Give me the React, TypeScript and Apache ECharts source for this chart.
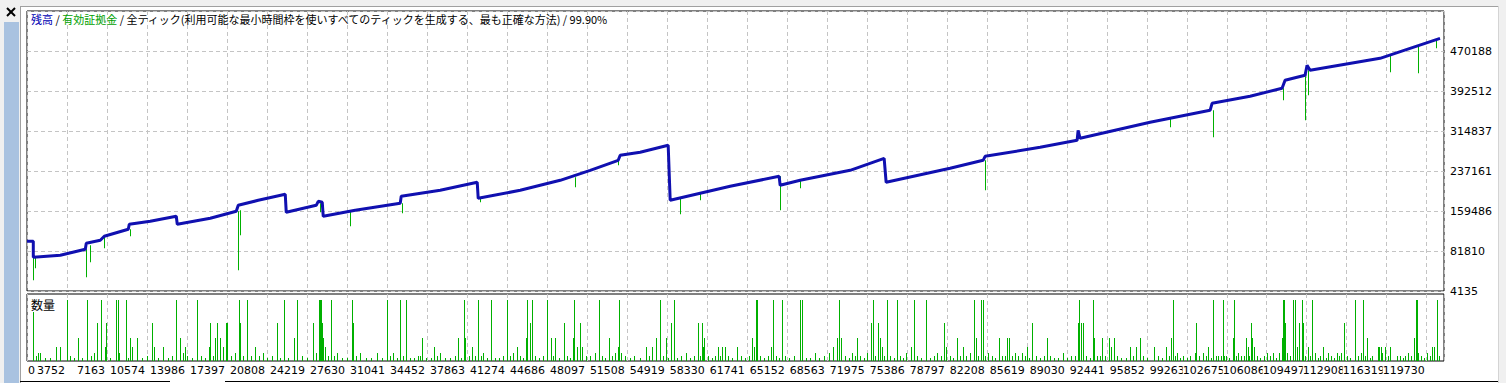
import React, { useEffect, useRef } from 'react';
import * as echarts from 'echarts';

// x axis tick labels (bar numbers) at each vertical grid line
const X_LABELS = ['0', '3752', '7163', '10574', '13986', '17397', '20808', '24219', '27630', '31041', '34452', '37863', '41274', '44686', '48097', '51508', '54919', '58330', '61741', '65152', '68563', '71975', '75386', '78797', '82208', '85619', '89030', '92441', '95852', '99263', '102675', '106086', '109497', '112908', '116319', '119730'];
// right axis tick labels
const Y_LABELS = ['4135', '81810', '159486', '237161', '314837', '392512', '470188'];

const X_MIN = 341;
const X_STEP = 3411.12;
const X_MAX = 121205;
const Y_MIN = 4135;
const Y_STEP = 77675.5;
const Y_MAX = Y_MIN + 7 * Y_STEP;
const VOL_MAX = 1.1;

// balance curve: [bar, balance]
const BALANCE: number[][] = [
  [341, 100647], [878, 100647], [878, 69577], [3181, 73460], [5313, 85112], [5398, 96763],
  [6592, 102589], [6933, 110357], [8980, 123950], [9065, 133659], [10856, 139485], [13073, 149195],
  [13159, 133659], [15973, 145311], [18190, 158904], [18361, 170555], [20066, 180265], [22369, 191916],
  [22454, 156962], [25012, 170555], [25183, 178323], [25524, 176381], [25609, 149195], [28338, 160846],
  [32176, 174439], [32261, 188033], [35587, 199684], [38743, 215219], [38828, 184149], [42410, 199684],
  [45821, 219103], [48379, 238522], [50767, 257941], [50938, 267650], [52643, 273476], [55031, 287069],
  [55202, 180265], [57760, 193858], [60318, 207452], [64497, 226871], [64582, 209393], [66288, 219103],
  [70552, 238522], [73452, 261825], [73622, 215219], [79080, 242406], [81894, 257941], [82065, 265709],
  [86755, 283186], [89911, 296779], [89996, 316198], [90166, 300663], [96136, 331733], [101253, 355036],
  [101423, 368629], [104664, 382223], [107393, 397758], [107649, 413293], [109354, 423002], [109525, 442421],
  [109781, 432712], [115750, 456015], [120867, 494853]
];

// equity drawdowns below balance: [bar, balance level, equity low]
const EQUITY_DIPS: number[][] = [
  [878, 69577, 24913], [1049, 69577, 48216], [5398, 85112, 30739], [5739, 92879, 59867],
  [6933, 110357, 87054], [9150, 123950, 110357], [18361, 158904, 44332], [18531, 160846, 112298],
  [25354, 174439, 156962], [27912, 160846, 129776], [32347, 174439, 155020], [38998, 184149, 176381],
  [47100, 224929, 205510], [50767, 257941, 248231], [56054, 184149, 153078], [57760, 193858, 180265],
  [64582, 226871, 160846], [66288, 219103, 203568], [82065, 257941, 199684], [97842, 339501, 322024],
  [101509, 355036, 302605], [107478, 397758, 374455], [109354, 421061, 335617], [109610, 432712, 384164],
  [116603, 461840, 428828], [118991, 481259, 426886], [120526, 490969, 475434]
];

// traded volume: [bar, lots]
const VOLUME: number[][] = [
  [878, 0.8], [1134, 0.09], [1305, 0.13], [1475, 0.13], [1902, 0.05], [2328, 0.05], [2840, 0.23], [3181, 0.23],
  [3778, 1.0], [4034, 0.09], [4375, 0.05], [4716, 0.38], [5057, 0.05], [5483, 1.0], [5824, 0.09], [6080, 0.13],
  [6336, 0.62], [6677, 1.0], [7018, 0.23], [7104, 0.62], [7445, 0.05], [7956, 1.0], [8127, 1.0], [8212, 0.13],
  [8809, 1.0], [8980, 0.05], [9150, 0.38], [9321, 0.23], [9747, 0.38], [10174, 0.05], [10600, 0.09], [11027, 0.62],
  [11197, 0.23], [11538, 0.05], [11965, 0.23], [12391, 0.05], [12732, 0.09], [13073, 1.0], [13414, 0.38], [13670, 0.13],
  [13841, 0.23], [14011, 0.09], [14438, 0.05], [14864, 1.0], [15205, 0.09], [15546, 0.05], [15888, 0.23], [15973, 0.62],
  [16229, 0.09], [16399, 0.38], [16570, 0.62], [16826, 0.38], [17081, 0.23], [17337, 0.62], [17423, 0.62], [17764, 0.09],
  [18105, 0.13], [18446, 1.0], [18531, 0.62], [18787, 0.09], [19128, 1.0], [19469, 0.09], [19810, 0.23], [20152, 0.09],
  [20493, 0.13], [20834, 0.05], [21260, 0.09], [21687, 0.62], [21942, 0.05], [22284, 1.0], [22625, 0.05], [23136, 0.38],
  [23392, 1.0], [23819, 0.09], [24245, 0.05], [24757, 0.62], [25012, 0.13], [25268, 1.0], [25354, 1.0], [25439, 1.0],
  [25524, 0.62], [25609, 0.38], [25780, 0.23], [26036, 0.09], [26292, 1.0], [26548, 0.09], [26803, 0.13], [27230, 0.05],
  [27656, 0.05], [28083, 1.0], [28168, 0.62], [28424, 0.09], [28765, 0.13], [29277, 0.05], [29703, 0.05], [30215, 0.13],
  [30641, 0.05], [31067, 1.0], [31323, 0.09], [31579, 0.13], [31920, 0.05],
  [32176, 1.0], [32432, 0.09], [32688, 1.0], [33029, 0.05], [33370, 0.05], [33711, 0.09], [33882, 0.09], [34052, 0.38],
  [34393, 0.05], [34820, 0.05], [35076, 0.23], [35331, 0.09], [35587, 0.13], [36014, 0.05], [36440, 0.05], [36866, 0.09],
  [37122, 0.38], [37378, 0.05], [37634, 1.0], [37719, 0.38], [38060, 0.09], [38316, 0.23], [38572, 0.09], [38828, 1.0],
  [39084, 0.09], [39254, 0.13], [39595, 0.05], [39937, 1.0], [40278, 0.05], [40619, 0.05], [40960, 0.09], [41301, 1.0],
  [41557, 0.09], [41813, 0.13], [42154, 0.23], [42410, 0.09], [42665, 0.05], [42921, 0.38], [43007, 1.0], [43262, 0.62],
  [43433, 1.0], [43689, 0.09], [44030, 0.05], [44371, 0.09], [44712, 1.0], [45053, 0.38], [45224, 0.09], [45394, 0.38],
  [45736, 0.05], [46162, 0.62], [46418, 0.09], [46674, 0.05], [46929, 0.38], [47015, 1.0], [47271, 0.23], [47526, 0.62],
  [47697, 0.23], [48038, 0.09], [48379, 0.09], [48806, 0.13], [49147, 1.0], [49403, 0.09], [49658, 0.05], [50000, 0.38],
  [50255, 0.09], [50511, 0.13], [50767, 0.23], [50852, 1.0], [51023, 0.13], [51364, 0.09], [51790, 0.05], [52132, 0.09],
  [52643, 0.05], [53155, 0.23], [53411, 0.09], [53667, 0.23], [54008, 0.38], [54349, 1.0], [54605, 0.09], [54861, 0.38],
  [55031, 0.05], [55287, 0.62], [55543, 1.0], [55799, 0.05], [56140, 0.09], [56566, 0.13], [56907, 0.05], [57248, 0.09],
  [57589, 0.62], [57760, 0.09], [57931, 0.62], [58016, 0.23], [58101, 0.38], [58442, 0.09], [58783, 0.05], [59039, 0.09],
  [59295, 0.23], [59466, 0.09], [59636, 0.23], [59892, 0.23], [60148, 0.09], [60489, 0.05], [60915, 0.23], [61257, 0.09],
  [61598, 0.05], [61939, 0.09], [62195, 0.38], [62365, 0.23], [62536, 1.0], [62621, 1.0], [62877, 0.09], [63218, 0.05],
  [63559, 0.09], [63815, 0.23], [63985, 1.0], [64241, 0.09], [64497, 0.05], [64753, 1.0], [65009, 0.09], [65350, 0.05],
  [65776, 0.09],
  [66288, 1.0], [66459, 1.0], [66800, 0.05], [67141, 0.05], [67567, 0.13], [67908, 0.05], [68335, 0.09], [68761, 0.13],
  [69102, 0.23], [69443, 0.38], [69614, 1.0], [69784, 0.38], [70126, 0.09], [70467, 0.05], [70723, 0.13], [70978, 0.09],
  [71149, 0.38], [71405, 0.09], [71746, 0.05], [72002, 0.13], [72343, 0.62], [72513, 1.0], [72684, 0.09], [72940, 0.62],
  [73110, 0.38], [73281, 0.23], [73452, 0.09], [73707, 1.0], [73963, 0.09], [74304, 0.05], [74560, 1.0], [74816, 0.09],
  [75072, 0.05], [75328, 0.13], [75754, 0.23], [76010, 1.0], [76266, 0.09], [76607, 0.05], [77033, 1.0], [77374, 0.05],
  [77716, 0.09], [77971, 0.13], [78313, 0.09], [78568, 0.62], [78739, 0.23], [79080, 0.09], [79336, 0.05], [79677, 0.38],
  [79933, 0.09], [80189, 0.23], [80445, 0.09], [80786, 0.13], [81127, 1.0], [81297, 0.38], [81468, 0.09], [81724, 1.0],
  [81894, 1.0], [82065, 0.09], [82321, 0.13], [82662, 0.09], [82918, 0.05], [83259, 0.38], [83515, 0.09], [83770, 0.09],
  [83941, 0.38], [84112, 0.38], [84367, 0.09], [84623, 0.13], [84879, 0.09], [85220, 0.13], [85476, 0.09], [85647, 0.23],
  [85817, 0.05], [86073, 0.62], [86414, 0.09], [86755, 0.05], [87096, 0.09], [87352, 0.38], [87608, 0.09], [87949, 0.05],
  [88290, 0.05], [88717, 0.13], [89058, 0.05], [89399, 0.09], [89740, 0.09], [89996, 0.62], [90081, 1.0], [90252, 0.62],
  [90422, 0.62], [90678, 0.09], [91019, 0.05], [91275, 1.0], [91360, 0.38], [91616, 0.09], [91872, 0.09], [92043, 0.38],
  [92298, 0.09], [92640, 0.38], [92810, 0.23], [93066, 0.38], [93322, 0.09], [93663, 0.05], [94089, 0.05], [94430, 0.23],
  [94686, 0.09], [94942, 0.23], [95283, 0.38], [95539, 0.09], [95880, 0.05],
  [96477, 0.23], [96818, 0.09], [97159, 0.05], [97500, 0.23], [97756, 0.09], [97927, 0.38], [98097, 1.0], [98268, 0.09],
  [98439, 0.13], [98694, 0.05], [98950, 0.09], [99291, 0.05], [99547, 0.09], [99974, 0.13], [100059, 0.62], [100315, 0.09],
  [100656, 0.13], [100912, 0.09], [101082, 0.23], [101338, 0.05], [101509, 1.0], [101764, 0.09], [101935, 0.09], [102191, 0.09],
  [102361, 1.0], [102447, 0.09], [102617, 0.09], [102873, 0.05], [103214, 0.38], [103300, 1.0], [103470, 0.09], [103641, 0.13],
  [103896, 0.09], [104152, 0.09], [104323, 0.38], [104493, 0.23], [104579, 0.09], [104749, 0.62], [104835, 0.38], [105005, 0.23],
  [105261, 0.09], [105517, 0.05], [105858, 0.09], [106114, 0.13], [106370, 0.09], [106625, 0.13], [106881, 0.05], [107137, 0.13],
  [107393, 0.38], [107478, 1.0], [107564, 1.0], [107649, 0.62], [107819, 0.13], [108075, 0.09], [108331, 1.0], [108502, 1.0],
  [108672, 0.23], [108843, 0.62], [109099, 1.0], [109184, 0.62], [109354, 0.09], [109610, 0.23], [109781, 0.09], [109951, 1.0],
  [110207, 0.13], [110463, 0.05], [110634, 0.09], [110889, 0.23], [111145, 0.05], [111316, 0.13], [111572, 0.09], [111828, 0.05],
  [112083, 0.13], [112254, 0.09], [112424, 0.13], [112680, 0.62], [112936, 0.09], [113192, 0.05], [113618, 1.0], [113874, 0.09],
  [114130, 0.13], [114301, 1.0], [114471, 0.09], [114642, 0.38], [114898, 0.05], [115068, 0.09], [115580, 0.23], [115665, 0.23],
  [115836, 0.23], [115921, 0.13], [116177, 0.23], [116433, 0.09], [116603, 0.23], [117200, 0.09], [117456, 0.09], [117712, 0.05],
  [117882, 0.09], [118138, 0.13], [118394, 0.09], [118650, 0.38], [118821, 1.0], [118906, 1.0], [118991, 0.13], [119247, 0.09],
  [119503, 0.05], [119759, 0.13], [120014, 0.09], [120185, 0.23], [120356, 0.23], [120611, 1.0], [120782, 0.09]
];

const AXIS_FONT = 'DejaVu Sans';
const CJK_FONT = '"Noto Sans CJK JP", "Noto Sans CJK SC", sans-serif';
const GREEN = '#00b000';
const BLUE = '#1010b0';
const GRID_LINE = { show: true, lineStyle: { color: '#c4c4c4', width: 1, type: [4, 3] as number[] } };

export default function App() {
  const ref = useRef<HTMLDivElement>(null);

  useEffect(() => {
    if (!ref.current) return;
    const chart = echarts.init(ref.current, undefined, { renderer: 'svg' });

    const xLabel = (v: number) => {
      const i = Math.round((v - X_MIN) / X_STEP);
      return X_LABELS[i] ?? '';
    };
    const yLabel = (v: number) => {
      const i = Math.round((v - Y_MIN) / Y_STEP);
      return Y_LABELS[i] ?? '';
    };

    // crisp 1px green vertical stroke (pixel-snapped)
    const vLine = (x: number, y1: number, y2: number) => ({
      type: 'rect',
      shape: { x: Math.round(x), y: Math.min(y1, y2), width: 1, height: Math.max(1, Math.abs(y2 - y1)) },
      style: { fill: GREEN, stroke: GREEN, lineWidth: 0 }
    });

    const option: any = {
      animation: false,
      backgroundColor: '#ffffff',
      color: [GREEN, BLUE, GREEN],
      title: {
        left: 31,
        top: 13,
        padding: 0,
        text: '{b|残高} / {g|有効証拠金} / 全ティック(利用可能な最小時間枠を使いすべてのティックを生成する、最も正確な方法) / 99.90%',
        textStyle: {
          fontFamily: CJK_FONT,
          fontSize: 11,
          fontWeight: 'normal',
          color: '#000000',
          rich: {
            b: { color: '#0000b4', fontFamily: CJK_FONT, fontSize: 11 },
            g: { color: '#00a000', fontFamily: CJK_FONT, fontSize: 11 }
          }
        }
      },
      grid: [
        { left: 27, top: 11, width: 1417, height: 280, show: true, borderColor: '#000', borderWidth: 1, backgroundColor: '#fff' },
        { left: 27, top: 294, width: 1417, height: 67, show: true, borderColor: '#000', borderWidth: 1, backgroundColor: '#fff' }
      ],
      xAxis: [
        {
          type: 'value', gridIndex: 0, min: X_MIN, max: X_MAX, interval: X_STEP,
          axisLine: { show: false }, axisTick: { show: false }, axisLabel: { show: false },
          splitLine: GRID_LINE
        },
        {
          type: 'value', gridIndex: 1, min: X_MIN, max: X_MAX, interval: X_STEP,
          axisLine: { show: false }, axisTick: { show: false },
          axisLabel: {
            show: true, formatter: xLabel, align: 'right', margin: 4,
            fontFamily: AXIS_FONT, fontSize: 11, color: '#000',
            showMinLabel: false, showMaxLabel: false,
            backgroundColor: '#fff', padding: [0, 2, 0, 0]
          },
          splitLine: GRID_LINE
        }
      ],
      yAxis: [
        {
          type: 'value', gridIndex: 0, position: 'right', min: Y_MIN, max: Y_MAX, interval: Y_STEP,
          axisLine: { show: false }, axisTick: { show: false },
          axisLabel: {
            formatter: yLabel, margin: 6, fontFamily: AXIS_FONT, fontSize: 11, color: '#000',
            showMaxLabel: false
          },
          splitLine: GRID_LINE
        },
        {
          type: 'value', gridIndex: 1, min: 0, max: VOL_MAX,
          axisLine: { show: false }, axisTick: { show: false }, axisLabel: { show: false },
          splitLine: { show: false }
        }
      ],
      series: [
        {
          type: 'custom', name: '有効証拠金', xAxisIndex: 0, yAxisIndex: 0,
          data: EQUITY_DIPS, encode: { x: 0, y: [1, 2] }, itemStyle: { color: GREEN },
          renderItem: (_p: any, api: any) => {
            const x = api.value(0);
            const a = api.coord([x, api.value(1)]);
            const b = api.coord([x, api.value(2)]);
            return vLine(a[0], a[1], b[1]);
          }
        },
        {
          type: 'line', name: '残高', xAxisIndex: 0, yAxisIndex: 0,
          data: BALANCE, showSymbol: false, symbol: 'none',
          lineStyle: { color: BLUE, width: 3 }, itemStyle: { color: BLUE }
        },
        {
          type: 'custom', name: '数量', xAxisIndex: 1, yAxisIndex: 1,
          data: VOLUME, encode: { x: 0, y: 1 }, itemStyle: { color: GREEN },
          renderItem: (_p: any, api: any) => {
            const x = api.value(0);
            const base = api.coord([x, 0]);
            const top = api.coord([x, api.value(1)]);
            return vLine(base[0], Math.round(base[1]), Math.round(top[1]));
          }
        }
      ],
      graphic: [
        { type: 'rect', silent: true, z: -10, shape: { x: 0, y: 0, width: 20, height: 383 }, style: { fill: '#f0f0f0' } },
        { type: 'rect', silent: true, z: -10, shape: { x: 4, y: 22, width: 15, height: 361 }, style: { fill: '#a9c2e0' } },
        { type: 'rect', silent: true, z: -10, shape: { x: 0, y: 0, width: 1506, height: 6 }, style: { fill: '#f0f0f0' } },
        { type: 'rect', silent: true, z: -10, shape: { x: 1498, y: 0, width: 8, height: 383 }, style: { fill: '#f0f0f0' } },
        { type: 'line', silent: true, shape: { x1: 20, y1: 6.5, x2: 1498, y2: 6.5 }, style: { stroke: '#a0a0a0', lineWidth: 1 } },
        { type: 'line', silent: true, shape: { x1: 20.5, y1: 6, x2: 20.5, y2: 383 }, style: { stroke: '#a0a0a0', lineWidth: 1 } },
        { type: 'line', silent: true, shape: { x1: 1498.5, y1: 6, x2: 1498.5, y2: 383 }, style: { stroke: '#d4d4d4', lineWidth: 1 } },
        { type: 'line', silent: true, shape: { x1: 20, y1: 381.5, x2: 170, y2: 381.5 }, style: { stroke: '#000', lineWidth: 1 } },
        { type: 'line', silent: true, shape: { x1: 225, y1: 381.5, x2: 1498, y2: 381.5 }, style: { stroke: '#000', lineWidth: 1 } },
        { type: 'line', silent: true, shape: { x1: 7, y1: 8, x2: 15, y2: 16 }, style: { stroke: '#000', lineWidth: 2 } },
        { type: 'line', silent: true, shape: { x1: 15, y1: 8, x2: 7, y2: 16 }, style: { stroke: '#000', lineWidth: 2 } },
        {
          type: 'text', silent: true, z: 10, x: 31, y: 298,
          style: { text: '数量', font: `12px ${CJK_FONT}`, fill: '#000' }
        },
        {
          type: 'text', silent: true, z: 10, x: 28, y: 365,
          style: { text: X_LABELS[0], font: `11px ${AXIS_FONT}`, fill: '#000' }
        }
      ]
    };

    chart.setOption(option);
    return () => chart.dispose();
  }, []);

  return (
    <div style={{ position: 'absolute', left: 0, top: 0, width: 1506, height: 383, background: '#fff' }}>
      <div ref={ref} style={{ width: 1506, height: 383 }} />
    </div>
  );
}
